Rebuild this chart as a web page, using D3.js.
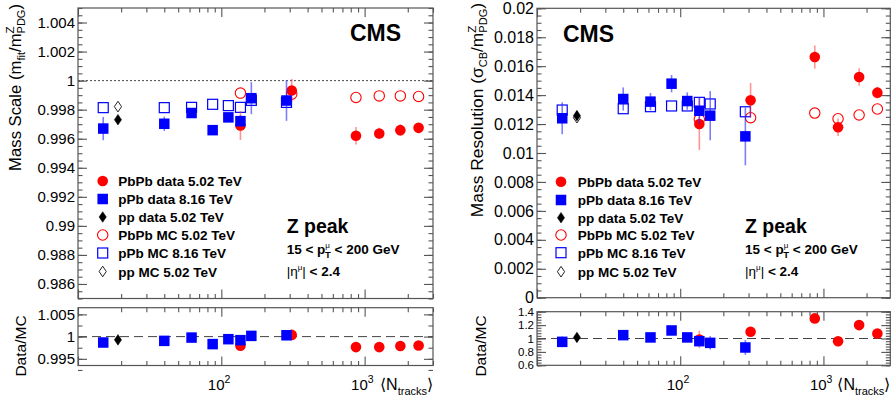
<!DOCTYPE html>
<html>
<head>
<meta charset="utf-8">
<script src="https://cdn.jsdelivr.net/npm/d3@7.9.0/dist/d3.min.js"></script>
<style>
  body { margin: 0; background: #fff; }
  svg { display: block; font-family: "Liberation Sans", Arial, Helvetica, sans-serif; }
</style>
</head>
<body>
<svg id="chart" width="891" height="404"></svg>
<script>
// <N_tracks> of each sample
const nPbPb = [136, 310, 870, 1265, 1775, 2380];
const nPPb = [15, 40, 62, 87, 112, 136, 162, 285];
const nPP = [19];

// mass scale (m_fit / m_PDG)
const scalePbPbData = [0.99691, 0.99932, 0.99620, 0.99636, 0.99659, 0.99675];
const scalePbPbErr = [0.0010, 0.0008, 0.0006, 0.0004, 0.0004, 0.0002];
const scalePPbData = [0.99670, 0.99703, 0.99777, 0.99659, 0.99747, 0.99721, 0.99879, 0.99863];
const scalePPbErr = [0.0008, 0.0005, 0.0003, 0.0003, 0.0003, 0.0004, 0.0011, 0.0014];
const scalePPData = [0.99731];
const scalePPErr = [0.0002];
const scalePbPbMC = [0.99914, 0.99907, 0.99884, 0.99895, 0.99895, 0.99891];
const scalePPbMC = [0.99814, 0.99814, 0.99816, 0.99837, 0.99828, 0.99816, 0.99864, 0.99850];
const scalePPMC = [0.99821];

// data / MC for the mass scale
const scaleRatioPbPb = [0.99793, 1.00038, 0.99764, 0.99764, 0.99787, 0.99800];
const scaleRatioPbPbErr = [0.0004, 0.0004, 0.0002, 0.0002, 0.0002, 0.0001];
const scaleRatioPPb = [0.99867, 0.99904, 0.99978, 0.99831, 0.99942, 0.99920, 1.00016, 1.00030];
const scaleRatioPPbErr = [0.0003, 0.0002, 0.0002, 0.0002, 0.0002, 0.0003, 0.0004, 0.0011];
const scaleRatioPP = [0.99927];
const scaleRatioPPErr = [0.0002];

// mass resolution (sigma_CB / m_PDG)
const resPbPbData = [0.01200, 0.01364, 0.01663, 0.01178, 0.01525, 0.01417];
const resPbPbErr = [0.0018, 0.0012, 0.0008, 0.0006, 0.0006, 0.0004];
const resPPbData = [0.01240, 0.01373, 0.01355, 0.01479, 0.01359, 0.01292, 0.01258, 0.01115];
const resPPbErr = [0.0011, 0.0008, 0.0006, 0.0006, 0.0006, 0.0009, 0.0017, 0.0020];
const resPPData = [0.01258];
const resPPErr = [0.0003];
const resPbPbMC = [0.01233, 0.01244, 0.01276, 0.01237, 0.01263, 0.01304];
const resPPbMC = [0.01297, 0.01306, 0.01320, 0.01325, 0.01325, 0.01350, 0.01339, 0.01285];
const resPPMC = [0.01244];

// data / MC for the resolution
const resRatioPbPb = [0.986, 1.10, 1.30, 0.96, 1.20, 1.075];
const resRatioPbPbErr = [0.13, 0.075, 0.05, 0.04, 0.04, 0.03];
const resRatioPPb = [0.95, 1.05, 1.016, 1.12, 1.016, 0.96, 0.935, 0.866];
const resRatioPPbErr = [0.08, 0.05, 0.04, 0.04, 0.04, 0.07, 0.10, 0.11];
const resRatioPP = [1.016];
const resRatioPPErr = [0.06];

// tick labels
const scaleTicks = [0.986, 0.988, 0.99, 0.992, 0.994, 0.996, 0.998, 1, 1.002, 1.004];
const scaleRatioTicks = [0.995, 1, 1.005];
const resTicks = [0, 0.002, 0.004, 0.006, 0.008, 0.01, 0.012, 0.014, 0.016, 0.018, 0.02];
const resRatioTicks = [0.6, 0.8, 1, 1.2, 1.4];
const xMajor = [10, 100, 1000];
const xLabels = ['2', '3'];

const legendNames = ['PbPb data 5.02 TeV', 'pPb data 8.16 TeV', 'pp data 5.02 TeV',
  'PbPb MC 5.02 TeV', 'pPb MC 8.16 TeV', 'pp MC 5.02 TeV'];

const RED = '#ff0000', BLUE = '#0000ff';
const frameColor = '#555';
const svg = d3.select('#chart');

const xMinor = [];
[10, 100, 1000].forEach(d => { for (let k = 2; k <= 9; k++) if (d * k <= 3000) xMinor.push(d * k); });

function fmt(v) { return String(+v.toFixed(4)); }

function marker(g, type, color, cx, cy) {
  if (type === 'circle' || type === 'ocircle') {
    g.append('circle').attr('cx', cx).attr('cy', cy).attr('r', type === 'circle' ? 5.3 : 5.2)
      .attr('fill', type === 'circle' ? color : 'none')
      .attr('stroke', color).attr('stroke-width', type === 'circle' ? 0 : 1.1);
  } else if (type === 'square' || type === 'osquare') {
    const s = type === 'square' ? 10.5 : 10;
    g.append('rect').attr('x', cx - s / 2).attr('y', cy - s / 2).attr('width', s).attr('height', s)
      .attr('fill', type === 'square' ? color : 'none')
      .attr('stroke', type === 'square' ? 'none' : color).attr('stroke-width', 1.2);
  } else {
    g.append('path').attr('d', `M${cx},${cy - 5.3}L${cx + 3.6},${cy}L${cx},${cy + 5.3}L${cx - 3.6},${cy}Z`)
      .attr('fill', type === 'diamond' ? color : 'none')
      .attr('stroke', color).attr('stroke-width', type === 'diamond' ? 0.5 : 1);
  }
}

function series(g, x, y, xs, ys, errs, type, color, errColor) {
  const [lo, hi] = d3.extent(y.range());
  if (errs) {
    g.append('g').selectAll('line').data(xs).join('line')
      .attr('x1', (d) => x(d)).attr('x2', (d) => x(d))
      .attr('y1', (d, i) => Math.min(hi, Math.max(lo, y(ys[i] - errs[i]))))
      .attr('y2', (d, i) => Math.min(hi, Math.max(lo, y(ys[i] + errs[i]))))
      .attr('stroke', errColor).attr('stroke-width', 1.6);
  }
  const mg = g.append('g');
  xs.forEach((d, i) => marker(mg, type, color, x(d), y(ys[i])));
}

function frame(g, x, y, major, minor, opts) {
  const [x0, x1] = x.range();
  const [y0, y1] = y.range();
  g.append('rect').attr('x', x0).attr('y', y1).attr('width', x1 - x0).attr('height', y0 - y1)
    .attr('fill', 'none').attr('stroke', frameColor).attr('stroke-width', 1.2);

  const ax = [];
  ax.push(g.append('g').attr('transform', `translate(${x0},0)`)
    .call(d3.axisLeft(y).tickValues(major).tickSize(-opts.yMaj).tickPadding(3).tickFormat(fmt)));
  ax.push(g.append('g').attr('transform', `translate(${x0},0)`)
    .call(d3.axisLeft(y).tickValues(minor).tickSize(-opts.yMin).tickFormat('')));
  ax.push(g.append('g').attr('transform', `translate(${x1},0)`)
    .call(d3.axisRight(y).tickValues(major).tickSize(-opts.yMaj).tickFormat('')));
  ax.push(g.append('g').attr('transform', `translate(${x1},0)`)
    .call(d3.axisRight(y).tickValues(minor).tickSize(-opts.yMin).tickFormat('')));
  ax.push(g.append('g').attr('transform', `translate(0,${y0})`)
    .call(d3.axisBottom(x).tickValues(xMajor).tickSize(-opts.xMaj).tickFormat('')));
  ax.push(g.append('g').attr('transform', `translate(0,${y0})`)
    .call(d3.axisBottom(x).tickValues(xMinor).tickSize(-opts.xMin).tickFormat('')));
  ax.push(g.append('g').attr('transform', `translate(0,${y1})`)
    .call(d3.axisTop(x).tickValues(xMajor).tickSize(-opts.xMaj).tickFormat('')));
  ax.push(g.append('g').attr('transform', `translate(0,${y1})`)
    .call(d3.axisTop(x).tickValues(xMinor).tickSize(-opts.xMin).tickFormat('')));
  ax.forEach(a => {
    a.select('.domain').remove();
    a.selectAll('line').attr('stroke', frameColor).attr('stroke-width', 1.1);
    a.selectAll('text').attr('fill', '#000').style('font-size', opts.font + 'px')
      .style('font-family', '"Liberation Sans", Arial, sans-serif');
  });
}

function legend(g, lx, tx, rows) {
  const types = [['circle', RED], ['square', BLUE], ['diamond', '#000'],
    ['ocircle', RED], ['osquare', BLUE], ['odiamond', '#222']];
  legendNames.forEach((name, i) => {
    marker(g, types[i][0], types[i][1], lx, rows[i]);
    g.append('text').attr('x', tx).attr('y', rows[i] + 5).text(name)
      .style('font-size', '13.5px').style('font-weight', 'bold');
  });
}

function labels(g, zx, zy) {
  g.append('text').attr('x', zx).attr('y', zy).text('Z peak')
    .style('font-size', '19.5px').style('font-weight', 'bold');
  const t = g.append('text').attr('x', zx).attr('y', zy + 21)
    .style('font-size', '13.5px').style('font-weight', 'bold');
  t.append('tspan').text('15 < p');
  t.append('tspan').attr('dy', -6).style('font-size', '8px').style('font-weight', 'normal').text('\u03bc');
  t.append('tspan').attr('dx', -5).attr('dy', 10).style('font-size', '9.5px').text('T');
  t.append('tspan').attr('dy', -4).text(' < 200 GeV');
  const e = g.append('text').attr('x', zx).attr('y', zy + 43)
    .style('font-size', '13.5px').style('font-weight', 'bold');
  e.append('tspan').style('font-weight', 'normal').text('|\u03b7');
  e.append('tspan').attr('dy', -6).style('font-size', '8px').style('font-weight', 'normal').text('\u03bc');
  e.append('tspan').attr('dy', 6).style('font-weight', 'normal').text('|');
  e.append('tspan').text(' < 2.4');
}

function xLabel(g, x, base) {
  [100, 1000].forEach((v, i) => {
    const t = g.append('text').attr('x', x(v) - 13.5).attr('y', base).style('font-size', '15px');
    t.append('tspan').text('10');
    t.append('tspan').attr('dy', -7).style('font-size', '10.5px').text(xLabels[i]);
  });
  const [, x1] = x.range();
  const t = g.append('text').attr('x', x1).attr('y', base).attr('text-anchor', 'end').style('font-size', '16px');
  t.append('tspan').text('\u27e8N');
  t.append('tspan').attr('dy', 5).style('font-size', '11px').text('tracks');
  t.append('tspan').attr('dy', -5).text('\u27e9');
}

function yTitle(g, bx, topY, size, main, sub) {
  const t = g.append('text').attr('transform', `translate(${bx},${topY}) rotate(-90)`)
    .attr('text-anchor', 'end').style('font-size', size + 'px');
  t.append('tspan').text(main);
  t.append('tspan').attr('dy', 4).style('font-size', '11px').text(sub);
  t.append('tspan').attr('dy', -4).text('/m');
  t.append('tspan').attr('dy', -7).style('font-size', '11.5px').text('Z');
  t.append('tspan').attr('dx', -7).attr('dy', 11).style('font-size', '11px').text('PDG');
  t.append('tspan').attr('dy', -4).text(')');
}

function ratioTitle(g, bx, cy) {
  g.append('text').attr('transform', `translate(${bx},${cy}) rotate(-90)`)
    .attr('text-anchor', 'middle').style('font-size', '15.5px').text('Data/MC');
}

// ---------- left: mass scale ----------
{
  const g = svg.append('g');
  const x = d3.scaleLog().domain([10, 3000]).range([78, 433]);
  const y = d3.scaleLinear().domain([0.985, 1.005]).range([298.5, 8]);
  const yr = d3.scaleLinear().domain([0.9935, 1.0065]).range([365.5, 307.7]);

  g.append('line').attr('x1', 78).attr('x2', 433).attr('y1', y(1)).attr('y2', y(1))
    .attr('stroke', '#333').attr('stroke-width', 0.9).attr('stroke-dasharray', '2,2');
  g.append('line').attr('x1', 78).attr('x2', 433).attr('y1', yr(1)).attr('y2', yr(1))
    .attr('stroke', '#444').attr('stroke-width', 1).attr('stroke-dasharray', '9,5');

  frame(g, x, y, scaleTicks, d3.range(0, 41).map(i => 0.985 + 0.0005 * i),
    { yMaj: 9, yMin: 4.5, xMaj: 9, xMin: 4.5, font: 15 });
  frame(g, x, yr, scaleRatioTicks, d3.range(0, 6).map(i => 0.9925 + 0.0025 * i),
    { yMaj: 9, yMin: 4.5, xMaj: 9, xMin: 4.5, font: 15 });

  series(g, x, y, nPbPb, scalePbPbMC, null, 'ocircle', RED);
  series(g, x, y, nPPb, scalePPbMC, null, 'osquare', BLUE);
  series(g, x, y, nPP, scalePPMC, null, 'odiamond', '#222');
  series(g, x, y, nPbPb, scalePbPbData, scalePbPbErr, 'circle', RED, 'rgba(255,60,60,0.55)');
  series(g, x, y, nPPb, scalePPbData, scalePPbErr, 'square', BLUE, 'rgba(40,40,255,0.6)');
  series(g, x, y, nPP, scalePPData, scalePPErr, 'diamond', '#000', '#000');

  series(g, x, yr, nPbPb, scaleRatioPbPb, scaleRatioPbPbErr, 'circle', RED, 'rgba(255,60,60,0.55)');
  series(g, x, yr, nPPb, scaleRatioPPb, scaleRatioPPbErr, 'square', BLUE, 'rgba(40,40,255,0.6)');
  series(g, x, yr, nPP, scaleRatioPP, scaleRatioPPErr, 'diamond', '#000', '#000');

  g.append('text').attr('x', 350).attr('y', 41).text('CMS')
    .style('font-size', '23px').style('font-weight', 'bold');
  legend(g, 102.7, 118.3, [181, 199, 217, 235, 253, 271.5]);
  labels(g, 286.7, 233);
  xLabel(g, x, 390);
  yTitle(g, 21, 4, 16.7, 'Mass Scale (m', 'fit');
  ratioTitle(g, 26, 346);
}

// ---------- right: mass resolution ----------
{
  const g = svg.append('g');
  const x = d3.scaleLog().domain([10, 2930]).range([537, 890.3]);
  const y = d3.scaleLinear().domain([0, 0.02]).range([297.7, 8.3]);
  const yr = d3.scaleLinear().domain([0.6, 1.4]).range([365.3, 311.7]);

  g.append('line').attr('x1', 537).attr('x2', 890.3).attr('y1', yr(1)).attr('y2', yr(1))
    .attr('stroke', '#444').attr('stroke-width', 1).attr('stroke-dasharray', '9,5');

  frame(g, x, y, resTicks, d3.range(0, 41).map(i => 0.0005 * i),
    { yMaj: 9, yMin: 4.5, xMaj: 9, xMin: 4.5, font: 16 });
  frame(g, x, yr, resRatioTicks, d3.range(0, 21).map(i => 0.6 + 0.04 * i),
    { yMaj: 9, yMin: 4.5, xMaj: 9, xMin: 4.5, font: 11.5 });

  series(g, x, y, nPbPb, resPbPbMC, null, 'ocircle', RED);
  series(g, x, y, nPPb, resPPbMC, null, 'osquare', BLUE);
  series(g, x, y, nPP, resPPMC, null, 'odiamond', '#222');
  series(g, x, y, nPbPb, resPbPbData, resPbPbErr, 'circle', RED, 'rgba(255,60,60,0.55)');
  series(g, x, y, nPPb, resPPbData, resPPbErr, 'square', BLUE, 'rgba(40,40,255,0.6)');
  series(g, x, y, nPP, resPPData, resPPErr, 'diamond', '#000', '#000');

  series(g, x, yr, nPbPb, resRatioPbPb, resRatioPbPbErr, 'circle', RED, 'rgba(255,60,60,0.55)');
  series(g, x, yr, nPPb, resRatioPPb, resRatioPPbErr, 'square', BLUE, 'rgba(40,40,255,0.6)');
  series(g, x, yr, nPP, resRatioPP, resRatioPPErr, 'diamond', '#000', '#000');

  g.append('text').attr('x', 563).attr('y', 42).text('CMS')
    .style('font-size', '23px').style('font-weight', 'bold');
  legend(g, 561, 577.7, [181.7, 200, 217.7, 235, 252.7, 271.7]);
  labels(g, 745, 232.7);
  xLabel(g, x, 390);
  yTitle(g, 483, 3, 17.4, 'Mass Resolution (\u03c3', 'CB');
  ratioTitle(g, 486, 346);
}
</script>
</body>
</html>
